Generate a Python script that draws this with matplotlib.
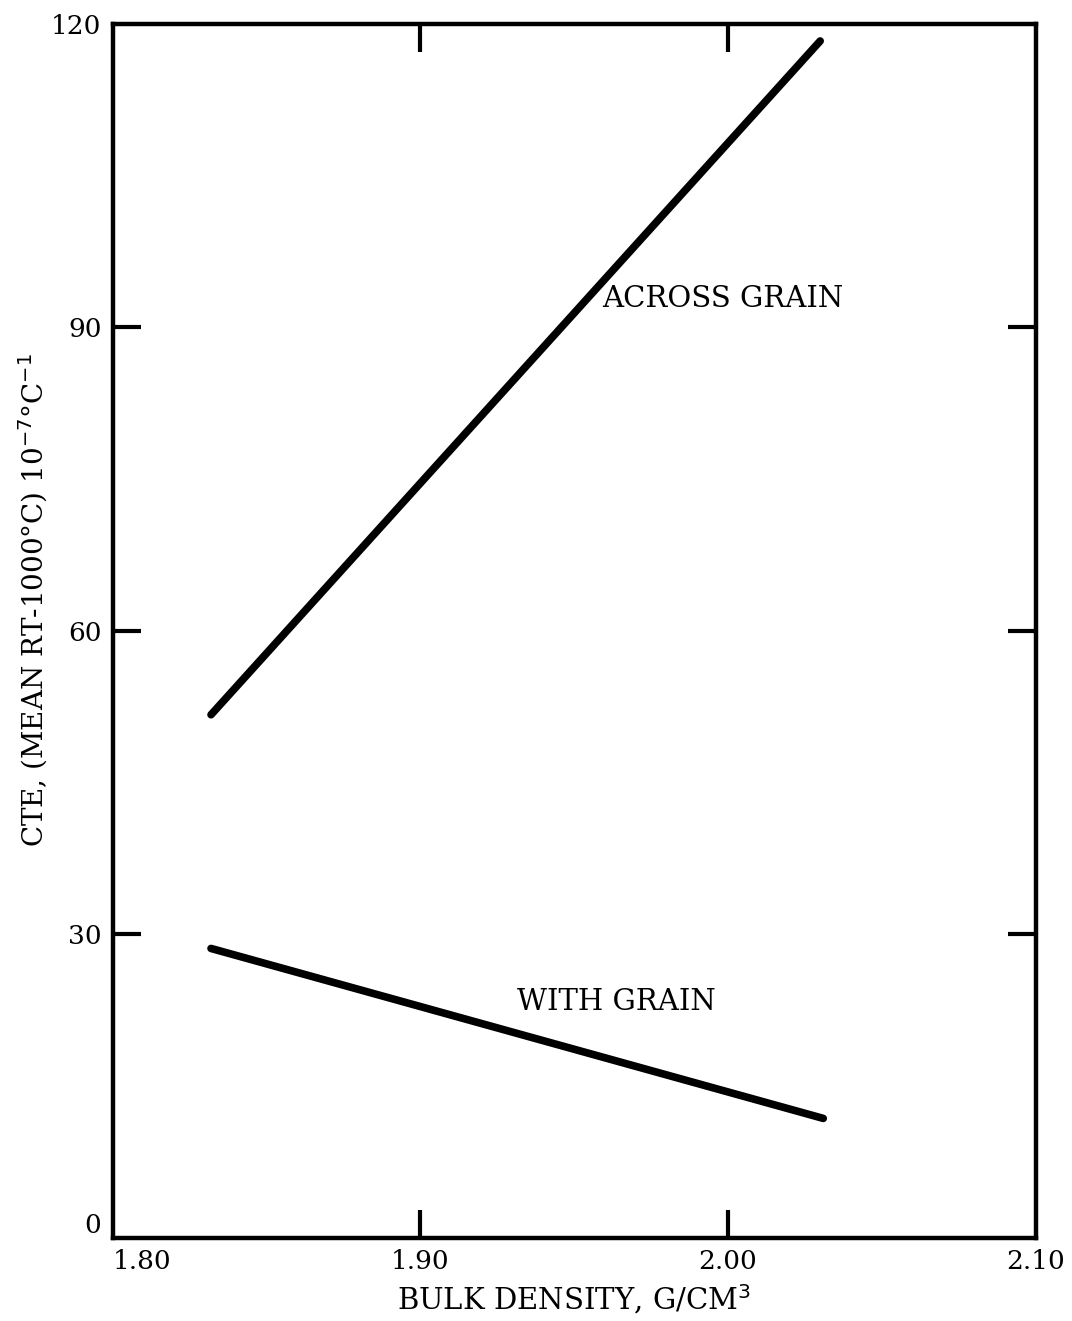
import matplotlib
matplotlib.use("Agg")
import matplotlib.pyplot as plt

# Data
across_x = [1.832, 2.030]
across_y = [51.7, 118.3]
with_x = [1.832, 2.031]
with_y = [28.6, 11.8]
xticks = [1.80, 1.90, 2.00, 2.10]
xtick_labels = ["1.80", "1.90", "2.00", "2.10"]
yticks = [0, 30, 60, 90, 120]
ytick_labels = ["0", "30", "60", "90", "120"]

plt.rcParams['font.family'] = ['DejaVu Serif']

fig = plt.figure(figsize=(10.72, 13.21), dpi=100)
ax = fig.add_axes([0.105, 0.063, 0.861, 0.919])

ax.plot(across_x, across_y, color='black', lw=5.5, solid_capstyle='round')
ax.plot(with_x, with_y, color='black', lw=5.5, solid_capstyle='round')

ax.set_xlim(1.80, 2.10)
ax.set_ylim(0, 120)

for s in ax.spines.values():
    s.set_linewidth(3.2)

ax.set_xticks(xticks)
ax.set_xticklabels(xtick_labels)
ax.set_yticks(yticks)
ax.set_yticklabels(ytick_labels)
ax.tick_params(direction='in', length=20, width=3, labelsize=19,
               top=True, right=True, pad=8)
# hide ticks at the corners
for t in ax.xaxis.get_major_ticks():
    if t.get_loc() in (1.80, 2.10):
        t.tick1line.set_visible(False)
        t.tick2line.set_visible(False)
for t in ax.yaxis.get_major_ticks():
    if t.get_loc() in (0, 120):
        t.tick1line.set_visible(False)
        t.tick2line.set_visible(False)

# first x label starts at the axis, "0" sits above the corner
ax.get_xticklabels()[0].set_horizontalalignment('left')
ax.get_yticklabels()[0].set_verticalalignment('bottom')

ax.text(1.959, 92.8, "ACROSS GRAIN", fontsize=21, ha='left', va='center')
ax.text(1.9316, 23.3, "WITH GRAIN", fontsize=21, ha='left', va='center')

ax.set_xlabel("BULK DENSITY, G/CM$^3$", fontsize=21, labelpad=6)
ax.set_ylabel("CTE, (MEAN RT-1000°C) 10$^{-7}$°C$^{-1}$", fontsize=20)
ax.yaxis.set_label_coords(-0.068, 0.525)

fig.savefig("out.png", dpi=100)
